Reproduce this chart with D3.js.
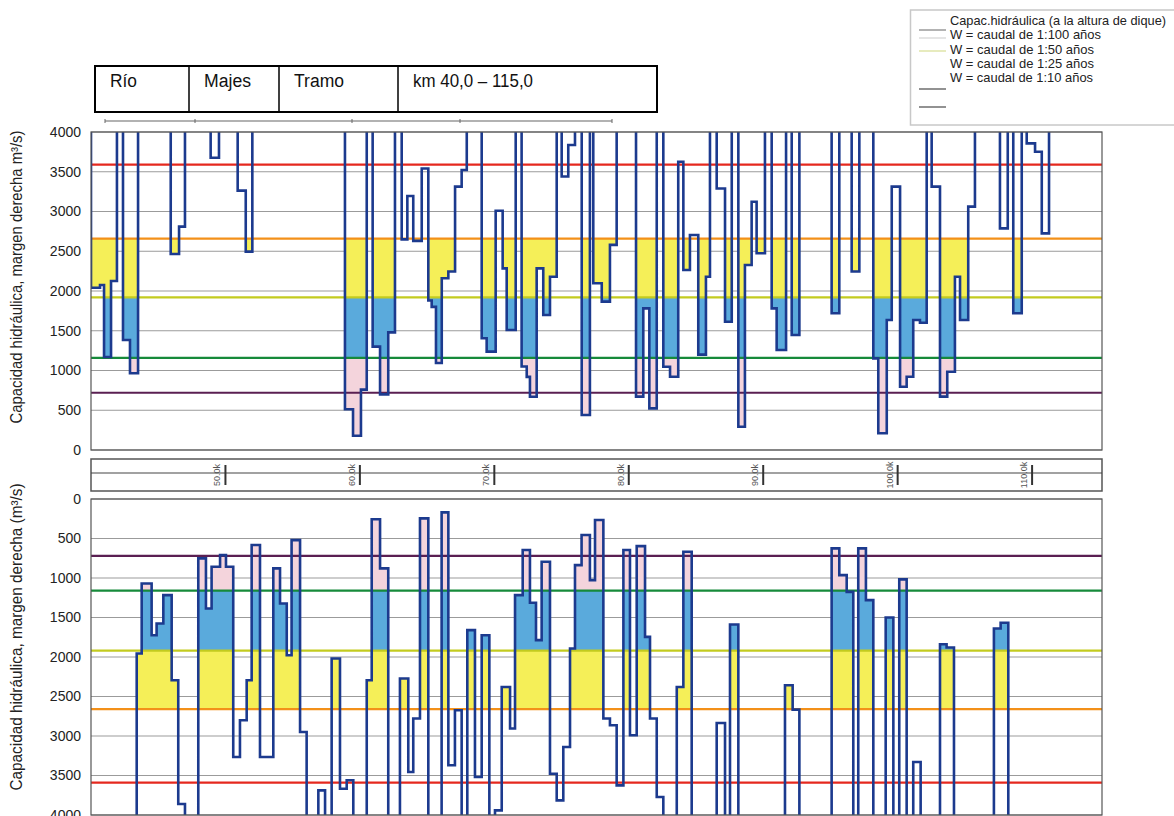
<!DOCTYPE html>
<html>
<head>
<meta charset="utf-8">
<script src="https://cdn.jsdelivr.net/npm/d3@7"></script>
<style>
body { margin: 0; background: #fff; }
svg { display: block; font-family: "Liberation Sans Narrow", "Liberation Sans", Arial, sans-serif; }
</style>
</head>
<body>
<svg id="chart" width="1174" height="816"></svg>
<script>
// capacity above the 4000 limit is not readable: drawn off the panel
const OFF = 4500;
const kmEnd = 115.2;

// upper panel: capacidad hidraulica (steps start at km, m3/s)
const kmTop = [40.00, 40.67, 40.97, 41.49, 41.93, 42.38, 42.90, 43.50, 45.93, 46.55, 46.99, 48.90, 49.52, 50.91, 51.51, 52.00,
  58.89, 59.49, 60.08, 60.51, 60.95, 61.50, 62.11, 62.61, 63.11, 63.53, 63.97, 64.60, 65.09, 65.34, 65.66, 66.09, 66.58,
  67.08, 67.57, 67.95, 69.06, 69.43, 70.10, 70.62, 70.92, 71.59, 72.03, 72.41, 72.65, 73.15, 73.64, 74.14, 74.64, 75.01,
  75.50, 76.00, 76.50, 77.11, 77.36, 77.99, 78.60, 79.10, 80.54, 81.08, 81.53, 82.08, 82.57, 83.07, 83.68, 84.06, 84.55,
  85.17, 85.74, 86.04, 86.54, 87.16, 87.66, 88.15, 88.64, 89.14, 89.51, 90.13, 90.63, 91.00, 91.70, 92.12, 92.69, 95.09,
  95.66, 96.58, 97.15, 98.19, 98.56, 99.19, 99.56, 100.18, 100.67, 101.16, 101.66, 102.16, 102.53, 103.15, 103.69, 104.26,
  104.64, 105.25, 105.75, 107.61, 108.19, 108.60, 109.23, 109.60, 110.22, 110.72, 111.26];
const capTop = [2040, 2075, 1170, 2125, OFF, 1384, 965, OFF, 2465, 2810, OFF, 3677, OFF, 3262, 2495, OFF,
  512, 180, 760, OFF, 1300, 700, 1480, OFF, 2650, 3195, 2630, 3540, 1880, 1800, 1094, 2160, 2245,
  3313, 3522, OFF, 1405, 1237, 3010, 2285, 1509, OFF, 1050, 920, 670, 2285, 1698, 2180, OFF, 3440,
  3836, OFF, 440, OFF, 2097, 1866, 2580, OFF, 671, 1782, 524, OFF, 1048, 922, 3626, 2264, 2704,
  1200, 2180, OFF, 3290, 1614, OFF, 293, 2327, 3123, 2474, OFF, 1782, 1258, OFF, 1447, OFF, 1720,
  OFF, 2245, OFF, 1153, 210, 1635, 3313, 796, 922, 1635, 1600, OFF, 3313, 671, 985, 2180,
  1635, 3061, OFF, 2788, OFF, 1720, OFF, 3857, 3752, 2725, OFF];

// lower panel (reversed axis)
const kmBot = [40.00, 43.40, 43.77, 44.51, 44.88, 45.38, 46.00, 46.49, 46.99, 47.98, 48.55, 48.97, 49.60, 50.04, 50.58, 51.08,
  51.58, 51.95, 52.57, 53.56, 54.06, 54.56, 54.92, 55.55, 56.04, 56.91, 57.41, 57.90, 58.52, 59.02, 59.51, 60.51,
  60.88, 61.50, 62.11, 62.98, 63.60, 63.97, 64.47, 65.09, 66.08, 66.58, 67.07, 67.57, 67.99, 68.56, 69.06, 69.63,
  70.05, 70.55, 71.17, 71.54, 72.11, 72.65, 73.10, 73.52, 74.14, 74.64, 75.13, 75.63, 76.00, 76.49, 77.11, 77.49,
  78.11, 78.60, 79.10, 79.60, 80.09, 80.59, 81.21, 81.58, 82.08, 82.57, 83.57, 84.06, 84.68, 86.54, 87.16, 87.53,
  88.15, 91.62, 92.19, 92.69, 95.09, 95.66, 96.21, 96.70, 97.07, 97.64, 98.19, 99.11, 99.68, 100.12, 100.67, 101.16,
  101.71, 103.15, 103.64, 104.19, 107.16, 107.66, 108.23];
const capBot = [OFF, 1956, 1069, 1724, 1576, 1217, 2294, 3860, OFF, 752, 1386, 858, 710, 858, 3266, 2800,
  2294, 583, 3266, 878, 1322, 1977, 520, 2949, OFF, 3688, OFF, 2019, 3667, 3561, OFF, 2294,
  257, 878, OFF, 2273, 3456, 2779, 245, OFF, 169, 3371, 2674, OFF, 1660, 3519, 1724, OFF,
  3942, 2379, 2906, 1217, 646, 1314, 1787, 795, 3477, 3815, 3139, 1892, 837, 456, 1027, 266,
  2779, 2864, 3625, 646, 2991, 596, 1745, 2779, 3773, OFF, 2379, 668, OFF, 2835, OFF, 1588,
  OFF, 2357, 2666, OFF, 625, 963, 1175, OFF, 625, 1280, OFF, 1500, OFF, 1018, OFF, 3329,
  OFF, 1838, 1880, OFF, 1639, 1567, OFF];

const levelValues = [3590, 2660, 1920, 1160, 720];
const levelColors = ["#e5281e", "#f39019", "#c3cb1f", "#168a3a", "#5a1f52"];

// bands filled under each level (top, bottom, colour)
const bandTops = [2660, 1920, 1160];
const bandBottoms = [1920, 1160, 0];
const bandColors = ["#f5ef58", "#5aaadc", "#f4d4dc"];

const yTicks = [0, 500, 1000, 1500, 2000, 2500, 3000, 3500, 4000];
const kmTicks = [50, 60, 70, 80, 90, 100, 110];
const kmTickLabels = ["50.0k", "60.0k", "70.0k", "80.0k", "90.0k", "100.0k", "110.0k"];

const tableCells = ["Río", "Majes", "Tramo", "km 40,0 – 115,0"];
const legendLabels = ["Capac.hidráulica (a la altura de dique)", "W = caudal de 1:100 años",
  "W = caudal de 1:50 años", "W = caudal de 1:25 años", "W = caudal de 1:10 años"];
const legendSwatch = ["#9a9a9a", "#dcdcdc", "#dfe5a8", "#6e6e6e", "#6e6e6e"];

const svg = d3.select("#chart");
svg.append("rect").attr("width", 1174).attr("height", 816).attr("fill", "#fff");

const x = d3.scaleLinear().domain([40, kmEnd]).range([91, 1102]);
const yTop = d3.scaleLinear().domain([0, 4000]).range([450, 132]);
const yBot = d3.scaleLinear().domain([0, 4000]).range([499, 815]);

function drawPanel(y, kms, caps, id, title, titleY, titleLen) {
    const g = svg.append("g");
    const [r0, r1] = y.range();
    const top = Math.min(r0, r1), bottom = Math.max(r0, r1);

    g.append("clipPath").attr("id", id)
        .append("rect").attr("x", 91).attr("y", top).attr("width", 1011).attr("height", bottom - top);

    // grid
    g.selectAll(".grid").data(yTicks).enter().append("line")
        .attr("x1", 91).attr("x2", 1102)
        .attr("y1", d => y(d)).attr("y2", d => y(d))
        .attr("stroke", "#9b9b9b").attr("stroke-width", 1);

    // shaded deficit bands
    const segs = kms.map((k, i) => ({x0: k, x1: i < kms.length - 1 ? kms[i + 1] : kmEnd, v: caps[i]}));
    const fills = g.append("g").attr("clip-path", `url(#${id})`).attr("shape-rendering", "crispEdges");
    bandTops.forEach((bt, b) => {
        segs.filter(s => s.v < bt).forEach(s => {
            const lo = Math.max(s.v, bandBottoms[b]);
            const xa = Math.round(x(s.x0)), xb = Math.round(x(s.x1));
            fills.append("rect")
                .attr("x", xa).attr("width", xb - xa)
                .attr("y", Math.min(y(lo), y(bt)))
                .attr("height", Math.abs(y(lo) - y(bt)))
                .attr("fill", bandColors[b]);
        });
    });

    // flow levels
    g.selectAll(".lvl").data(levelValues).enter().append("line")
        .attr("x1", 91).attr("x2", 1102)
        .attr("y1", d => y(d)).attr("y2", d => y(d))
        .attr("stroke", (d, i) => levelColors[i]).attr("stroke-width", 2.2);

    // capacity profile
    const pts = [[kms[0], OFF]].concat(segs.map(s => [s.x0, s.v]), [[kmEnd, caps[caps.length - 1]]]);
    const line = d3.line().x(d => x(d[0])).y(d => y(d[1])).curve(d3.curveStepAfter);
    g.append("path").datum(pts)
        .attr("clip-path", `url(#${id})`)
        .attr("d", line)
        .attr("fill", "none")
        .attr("stroke", "#1c3a8e")
        .attr("stroke-width", 2.6);

    g.append("rect").attr("x", 91).attr("y", top).attr("width", 1011).attr("height", bottom - top)
        .attr("fill", "none").attr("stroke", "#555").attr("stroke-width", 1.2);

    const ax = g.append("g").attr("transform", "translate(91,0)")
        .call(d3.axisLeft(y).tickValues(yTicks).tickFormat(d3.format("d")).tickSize(0).tickPadding(10));
    ax.select(".domain").remove();
    ax.selectAll("text").attr("font-size", 14).attr("fill", "#222")
        .attr("font-family", "'Liberation Sans', Arial, sans-serif");

    g.append("text")
        .attr("transform", `translate(22,${titleY}) rotate(-90)`)
        .attr("text-anchor", "middle")
        .attr("font-size", 16).attr("fill", "#222")
        .attr("textLength", titleLen).attr("lengthAdjust", "spacingAndGlyphs")
        .text(title);
}

drawPanel(yTop, kmTop, capTop, "clipTop", "Capacidad hidráulica, margen derecha m³/s)", 277, 293);
drawPanel(yBot, kmBot, capBot, "clipBot", "Capacidad hidráulica, margen derecha (m³/s)", 637, 307);

// km strip between the panels
const strip = svg.append("g");
strip.append("rect").attr("x", 91).attr("y", 459).attr("width", 1011).attr("height", 32)
    .attr("fill", "#fff").attr("stroke", "#555").attr("stroke-width", 1.5);
strip.append("line").attr("x1", 91).attr("x2", 1102).attr("y1", 473).attr("y2", 473)
    .attr("stroke", "#444").attr("stroke-width", 1.2);
strip.selectAll(".tk").data(kmTicks).enter().append("line")
    .attr("x1", d => x(d)).attr("x2", d => x(d)).attr("y1", 465).attr("y2", 485)
    .attr("stroke", "#333").attr("stroke-width", 2);
strip.selectAll(".tl").data(kmTicks).enter().append("text")
    .attr("transform", d => `translate(${x(d) - 5},475) rotate(-90)`)
    .attr("text-anchor", "middle").attr("font-size", 9).attr("fill", "#555")
    .text((d, i) => kmTickLabels[i]);

// header table
const colX = [95, 189, 279, 398, 657];
const table = svg.append("g");
table.append("rect").attr("x", 95).attr("y", 66).attr("width", 562).attr("height", 46)
    .attr("fill", "#fff").attr("stroke", "#000").attr("stroke-width", 2);
table.selectAll(".div").data(colX.slice(1, 4)).enter().append("line")
    .attr("x1", d => d).attr("x2", d => d).attr("y1", 66).attr("y2", 112)
    .attr("stroke", "#000").attr("stroke-width", 1.5);
const cellLen = [27, 47, 50, 120];
table.selectAll(".cell").data(tableCells).enter().append("text")
    .attr("x", (d, i) => colX[i] + 15).attr("y", 87)
    .attr("font-size", 18).attr("fill", "#111")
    .attr("textLength", (d, i) => cellLen[i]).attr("lengthAdjust", "spacingAndGlyphs")
    .text(d => d);

const rulerX = [105, 195, 352, 460, 612];
table.append("line").attr("x1", 105).attr("x2", 612).attr("y1", 121).attr("y2", 121)
    .attr("stroke", "#666").attr("stroke-width", 1.2);
table.selectAll(".rt").data(rulerX).enter().append("line")
    .attr("x1", d => d).attr("x2", d => d).attr("y1", 119).attr("y2", 123)
    .attr("stroke", "#666").attr("stroke-width", 1);

// legend
const legend = svg.append("g");
legend.append("rect").attr("x", 910.5).attr("y", 10).attr("width", 270).attr("height", 115)
    .attr("fill", "#fff").attr("stroke", "#c8c8c8").attr("stroke-width", 1.5);
const legLen = [216, 151, 144, 144, 143];
const swatchY = [30, 38, 51, 89, 107];
legend.selectAll(".sw").data(legendSwatch).enter().append("line")
    .attr("x1", 919).attr("x2", 946)
    .attr("y1", (d, i) => swatchY[i]).attr("y2", (d, i) => swatchY[i])
    .attr("stroke", d => d).attr("stroke-width", 1.5);
legend.selectAll(".lt").data(legendLabels).enter().append("text")
    .attr("x", 950).attr("y", (d, i) => 25 + i * 14.3)
    .attr("font-size", 13.5).attr("fill", "#222")
    .attr("textLength", (d, i) => legLen[i]).attr("lengthAdjust", "spacingAndGlyphs")
    .text(d => d);
</script>
</body>
</html>
